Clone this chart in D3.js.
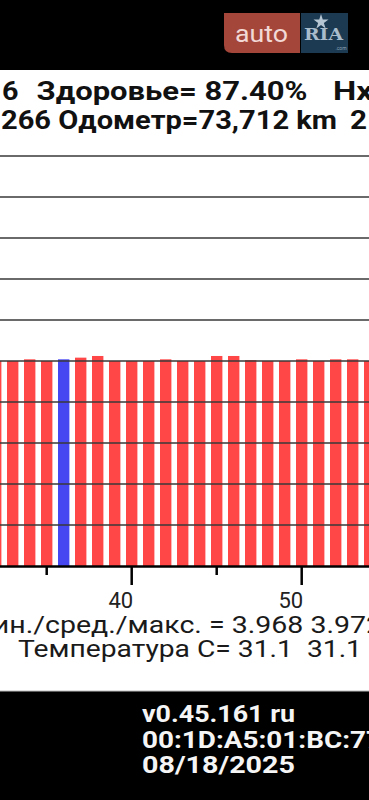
<!DOCTYPE html>
<html>
<head>
<meta charset="utf-8">
<script src="https://cdn.jsdelivr.net/npm/d3@7"></script>
<style>
  html, body { margin: 0; padding: 0; background: #fff; overflow: hidden; }
  svg { display: block; font-family: Roboto, "Noto Sans", sans-serif; }
</style>
</head>
<body>
<script>
// cell numbers visible in the crop (the strip is cut on both sides)
var cells = [32, 33, 34, 35, 36, 37, 38, 39, 40, 41, 42, 43, 44, 45, 46, 47, 48, 49, 50, 51, 52, 53, 54];
// cell voltages, V
var voltages = [3.968, 3.968, 3.970, 3.968, 3.970, 3.972, 3.974, 3.968, 3.968, 3.968, 3.970, 3.968,
                3.968, 3.974, 3.974, 3.969, 3.968, 3.968, 3.970, 3.968, 3.970, 3.970, 3.968];
var selectedCell = 36;
var tickCells = [35, 40, 45, 50];
var labelCells = [40, 50];

// texts
var healthLine = ["6", "Здоровье= 87.40%", "Нх"];
var odoLine = ["266 Одометр=73,712 km", "2"];
var statsLine = "Мин./сред./макс. = 3.968 3.972 3.974";
var statsVisible = "Мин./сред./макс. = 3.968 3.97";
var tempLine = "Температура С= 31.1  31.1";
var footerLines = ["v0.45.161 ru", "00:1D:A5:01:BC:77", "08/18/2025"];

var W = 369, H = 800;
var plotTop = 156, plotBottom = 566;
var vMin = 3.723, vMax = 4.213;

var svg = d3.select("body").append("svg")
    .attr("width", W)
    .attr("height", H);

// squeeze / stretch a text to a given width
function fit(sel, w) {
  sel.attr("textLength", w).attr("lengthAdjust", "spacingAndGlyphs");
}

// top black bar
svg.append("rect").attr("x", 0).attr("y", 0).attr("width", W).attr("height", 70).attr("fill", "#000");

// auto.ria watermark
var logo = svg.append("g");
logo.append("path")
    .attr("d", "M224,13 H300 V53 H232 Q224,53 224,45 Z")
    .attr("fill", "#a5463b");
logo.append("text")
    .attr("x", 235).attr("y", 42)
    .attr("font-size", 24)
    .attr("fill", "#f2d9d6")
    .text("auto")
    .call(fit, 53);
logo.append("rect").attr("x", 301).attr("y", 13).attr("width", 47).attr("height", 40).attr("fill", "#1c3a52");
logo.append("path")
    .attr("d", d3.symbol(d3.symbolStar, 70)())
    .attr("transform", "translate(321,22)")
    .attr("fill", "#b7c6d3");
logo.append("text")
    .attr("x", 304).attr("y", 40)
    .attr("font-family", "'DejaVu Serif', serif")
    .attr("font-weight", "bold")
    .attr("font-size", 16)
    .attr("fill", "#a9bccb")
    .text("RIA")
    .call(fit, 39);
logo.append("text")
    .attr("x", 341).attr("y", 50)
    .attr("text-anchor", "middle")
    .attr("font-size", 5)
    .attr("fill", "#8fa3b5")
    .text(".com");

// header lines
var head = svg.append("g").attr("font-weight", "bold").attr("font-size", 26).attr("fill", "#111");
head.append("text").attr("x", 2).attr("y", 100).text(healthLine[0]).call(fit, 16.5);
head.append("text").attr("x", 36.5).attr("y", 100).text(healthLine[1]).call(fit, 271);
head.append("text").attr("x", 333).attr("y", 100).text(healthLine[2]).call(fit, 40);
head.append("text").attr("x", 1).attr("y", 128.5).text(odoLine[0]).call(fit, 336);
head.append("text").attr("x", 350).attr("y", 128.5).text(odoLine[1]).call(fit, 17);

// scales
var x = d3.scaleBand()
    .domain(cells)
    .range([-12.8, -12.8 + cells.length * 17])
    .paddingInner(0.33)
    .paddingOuter(0.165);

var y = d3.scaleLinear()
    .domain([vMin, vMax])
    .range([plotBottom, plotTop]);

// bars
svg.append("g").selectAll("rect")
    .data(cells)
    .join("rect")
    .attr("x", function(d) { return x(d); })
    .attr("width", x.bandwidth())
    .attr("y", function(d, i) { return y(voltages[i]); })
    .attr("height", function(d, i) { return plotBottom - y(voltages[i]); })
    .attr("fill", function(d) { return d === selectedCell ? "#4747f2" : "#ff4747"; });

// horizontal grid, drawn over the bars
var gridVals = d3.range(0, 10).map(function(i) { return vMax - i * (vMax - vMin) / 10; });
svg.append("g").selectAll("line")
    .data(gridVals)
    .join("line")
    .attr("x1", 0).attr("x2", W)
    .attr("y1", function(d) { return y(d); })
    .attr("y2", function(d) { return y(d); })
    .attr("stroke", "#383838")
    .attr("stroke-width", 1.6);

// x axis
var xAxis = svg.append("g")
    .attr("transform", "translate(0," + plotBottom + ")")
    .call(d3.axisBottom(x).tickValues(tickCells).tickSizeOuter(0).tickFormat(function(d) {
      return labelCells.indexOf(d) >= 0 ? d : "";
    }));
xAxis.select(".domain").attr("stroke", "#000").attr("stroke-width", 2.5);
xAxis.selectAll(".tick line")
    .attr("stroke", "#000")
    .attr("stroke-width", 2.5)
    .attr("y2", function(d) { return labelCells.indexOf(d) >= 0 ? 19 : 9; });
xAxis.selectAll(".tick text")
    .attr("font-family", "Roboto, sans-serif")
    .attr("font-size", 22)
    .attr("fill", "#222")
    .attr("text-anchor", "end")
    .attr("x", 1.5)
    .attr("y", 42)
    .attr("dy", 0);

// stats text under the chart
var stats = svg.append("g").attr("font-size", 23).attr("fill", "#1a1a1a");
var statsText = stats.append("text").attr("y", 632.5).text(statsLine);
var fullW = statsText.node().getComputedTextLength();
var visW = statsText.node().getSubStringLength(0, statsVisible.length);
var k = 1.24;
statsText.attr("x", 366 - k * visW).call(fit, k * fullW);
stats.append("text").attr("x", 18).attr("y", 657).style("white-space", "pre").text(tempLine).call(fit, 344);

// footer
svg.append("rect").attr("x", 0).attr("y", 691).attr("width", W).attr("height", H - 691).attr("fill", "#000");
svg.append("line").attr("x1", 0).attr("x2", W).attr("y1", 691).attr("y2", 691).attr("stroke", "#bdbdbd").attr("stroke-width", 1);
var foot = svg.append("g").attr("font-weight", "bold").attr("font-size", 24).attr("fill", "#f5f5f5");
var footWidths = [153, 240, 153];
foot.selectAll("text")
  .data(footerLines)
  .join("text")
    .attr("x", 142)
    .attr("y", function(d, i) { return 722 + i * 25.5; })
    .text(function(d) { return d; })
    .each(function(d, i) { d3.select(this).call(fit, footWidths[i]); });
</script>
</body>
</html>
